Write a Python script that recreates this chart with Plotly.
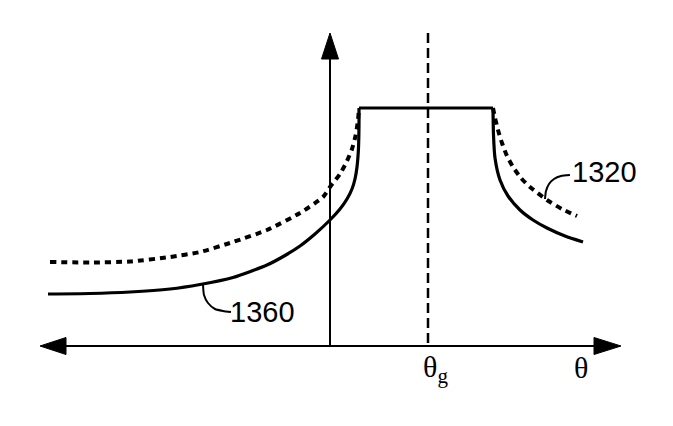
import plotly.graph_objects as go

# Coordinates (pixel-like units, y grows downward)
solid_left_x = [48, 90, 130, 170, 200, 233, 267, 285, 300, 315, 330, 340, 347, 352, 355, 357, 358.5, 359, 359]
solid_left_y = [294, 293.5, 292, 289, 284.5, 277.5, 265, 255.5, 246, 234, 220, 209, 199, 189, 179, 167, 148, 125, 108]
top_x = [359, 493]
top_y = [108, 108]
solid_right_x = [493, 493.5, 495, 500, 508, 520, 533, 547, 565, 583]
solid_right_y = [108, 135, 158, 180, 196, 210, 220, 228, 236, 242]
dashed_left_x = [50, 90, 130, 170, 200, 233, 267, 300, 323, 330, 340, 347, 352, 355.5, 358, 359]
dashed_left_y = [262, 262.5, 261.5, 257, 252, 242, 230, 213, 197, 187, 174, 161, 149, 136, 120, 108]
dashed_right_x = [493, 495, 498, 502, 507, 513, 521, 530, 547, 562, 577]
dashed_right_y = [108, 118, 130, 143, 156, 167, 178, 187, 200, 209, 216]
leader1360_x = [203, 204, 208, 215, 223, 231]
leader1360_y = [285, 295, 303, 309, 311, 312]
leader1320_x = [545, 546, 549, 554, 561, 570]
leader1320_y = [199, 191, 184, 179, 176, 175]
label_1360 = "1360"
label_1320 = "1320"
axis_y = 346
axis_x = 330
theta_g_x = 428

fig = go.Figure()

def line(x, y, width=3, dash=None, shape="spline"):
    fig.add_trace(go.Scatter(x=x, y=y, mode="lines",
                             line=dict(color="black", width=width, dash=dash,
                                       shape=shape, smoothing=0.6),
                             hoverinfo="skip", showlegend=False))

# axes
line([65, 595], [axis_y, axis_y], width=2, shape="linear")
line([axis_x, axis_x], [axis_y, 58], width=2, shape="linear")
# theta_g dashed line
line([theta_g_x, theta_g_x], [33, axis_y], width=2.5, dash="10px,5px", shape="linear")

# curves
line(dashed_left_x, dashed_left_y, width=4, dash="6px,5px")
line(dashed_right_x, dashed_right_y, width=4, dash="6px,5px")
line(solid_left_x, solid_left_y, width=3.2)
line(top_x, top_y, width=3.2, shape="linear")
line(solid_right_x, solid_right_y, width=3.2)
line(leader1360_x, leader1360_y, width=2)
line(leader1320_x, leader1320_y, width=2)

# arrowheads
shapes = [
    dict(type="path", path=f"M 40 {axis_y} L 66 {axis_y-8.5} L 66 {axis_y+8.5} Z",
         fillcolor="black", line=dict(color="black", width=1)),
    dict(type="path", path=f"M 621 {axis_y} L 594 {axis_y-8.5} L 594 {axis_y+8.5} Z",
         fillcolor="black", line=dict(color="black", width=1)),
    dict(type="path", path=f"M {axis_x} 33 L {axis_x-8.5} 59 L {axis_x+8.5} 59 Z",
         fillcolor="black", line=dict(color="black", width=1)),
]
for s in shapes:
    s.update(xref="x", yref="y")

annotations = [
    dict(x=262, y=312, text=label_1360, showarrow=False,
         font=dict(family="Liberation Sans, Arial", size=29, color="black")),
    dict(x=604, y=172, text=label_1320, showarrow=False,
         font=dict(family="Liberation Sans, Arial", size=29, color="black")),
    dict(x=581, y=367, text="θ", showarrow=False,
         font=dict(family="Liberation Serif, Times New Roman", size=30, color="black")),
    dict(x=435, y=369, text="θ<sub>g</sub>", showarrow=False,
         font=dict(family="Liberation Serif, Times New Roman", size=30, color="black")),
]

# page body has an 8px margin; offset ranges so units map to window pixels
fig.update_layout(
    width=665, height=418,
    margin=dict(l=0, r=0, t=0, b=0),
    paper_bgcolor="white", plot_bgcolor="white",
    xaxis=dict(range=[8, 673], visible=False, fixedrange=True),
    yaxis=dict(range=[426, 8], visible=False, fixedrange=True),
    shapes=shapes, annotations=annotations,
)
fig.write_html("out.html")
